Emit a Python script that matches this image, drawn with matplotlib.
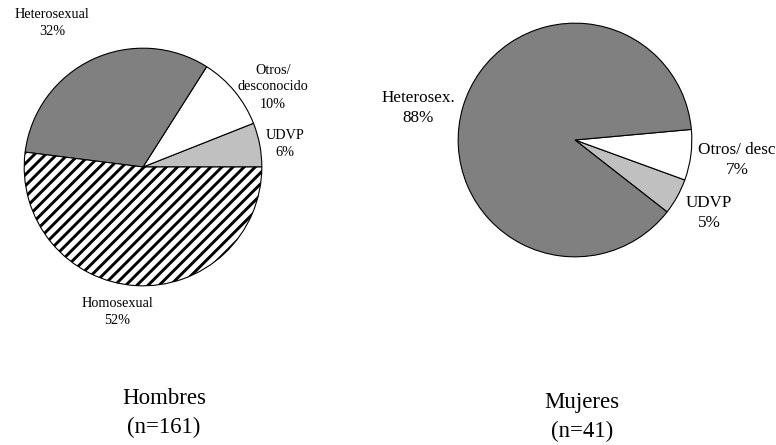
import matplotlib
matplotlib.use("Agg")
import matplotlib.pyplot as plt

plt.rcParams['font.family'] = ['Liberation Serif', 'DejaVu Serif']
plt.rcParams['hatch.linewidth'] = 2.1

# Data
men_labels = ["UDVP", "Otros/\ndesconocido", "Heterosexual", "Homosexual"]
men_values = [6, 10, 32, 52]
women_labels = ["UDVP", "Otros/ desc", "Heterosex."]
women_values = [5, 7, 88]
titles = ["Hombres\n(n=161)", "Mujeres\n(n=41)"]

W, H = 776, 445
fig = plt.figure(figsize=(W / 100, H / 100), dpi=100)


def px_axes(cx, cy, r):
    return fig.add_axes([(cx - r) / W, (H - cy - r) / H, 2 * r / W, 2 * r / H])


# Men pie
ax1 = px_axes(143, 167, 120)
wedges1, _ = ax1.pie(men_values, startangle=0, counterclock=True,
                     colors=["#c0c0c0", "white", "#808080", "white"],
                     wedgeprops=dict(edgecolor="black", linewidth=0.8))
wedges1[3].set_hatch("///")
ax1.set_xlim(-1.01, 1.01)
ax1.set_ylim(-1.01, 1.01)
ax1.set_aspect("equal")
ax1.axis("off")

# Women pie
ax2 = px_axes(575, 140, 118)
wedges2, _ = ax2.pie(women_values, startangle=-38, counterclock=True,
                     colors=["#c0c0c0", "white", "#808080"],
                     wedgeprops=dict(edgecolor="black", linewidth=0.8))
ax2.set_xlim(-1.01, 1.01)
ax2.set_ylim(-1.01, 1.01)
ax2.set_aspect("equal")
ax2.axis("off")


def ptext(x, y, s, size, ls=1.35):
    fig.text(x / W, 1 - y / H, s, ha="center", va="center", fontsize=size,
             linespacing=ls)


men_pos = [(285, 144), (273, 87), (52, 23), (117, 312)]
for (x, y), lab, v in zip(men_pos, men_labels, men_values):
    ptext(x, y, f"{lab}\n{v}%", 10.3, 1.4)

women_pos = [(709, 213), (737, 160), (418, 108)]
for (x, y), lab, v in zip(women_pos, women_labels, women_values):
    ptext(x, y, f"{lab}\n{v}%", 12.3, 1.3)

ptext(164, 413, titles[0], 16.5, 1.5)
ptext(582, 417, titles[1], 16.5, 1.45)

fig.savefig("out.png", dpi=100)
